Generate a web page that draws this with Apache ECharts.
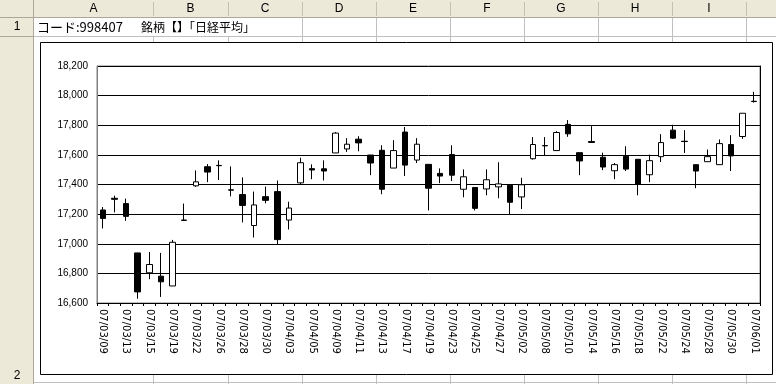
<!DOCTYPE html>
<html>
<head>
<meta charset="utf-8">
<script src="https://cdn.jsdelivr.net/npm/echarts@6/dist/echarts.min.js"></script>
<style>
html,body{margin:0;padding:0;background:#fff;}
#c{width:776px;height:384px;}
</style>
</head>
<body>
<div id="c"></div>
<script>
const categories = ['07/03/09','07/03/12','07/03/13','07/03/14','07/03/15','07/03/16','07/03/19','07/03/20','07/03/22','07/03/23',
'07/03/26','07/03/27','07/03/28','07/03/29','07/03/30','07/04/02','07/04/03','07/04/04','07/04/05','07/04/06',
'07/04/09','07/04/10','07/04/11','07/04/12','07/04/13','07/04/16','07/04/17','07/04/18','07/04/19','07/04/20',
'07/04/23','07/04/24','07/04/25','07/04/26','07/04/27','07/05/01','07/05/02','07/05/07','07/05/08','07/05/09',
'07/05/10','07/05/11','07/05/14','07/05/15','07/05/16','07/05/17','07/05/18','07/05/21','07/05/22','07/05/23',
'07/05/24','07/05/25','07/05/28','07/05/29','07/05/30','07/05/31','07/06/01'];
const openV = [17228,17307,17271,16938,16804,16781,16715,17160,17391,17520,
17529,17364,17332,17123,17318,17352,17160,17411,17507,17506,
17613,17640,17706,17599,17631,17511,17754,17565,17536,17475,
17602,17368,17380,17370,17384,17395,17316,17574,17663,17629,
17806,17615,17690,17584,17493,17590,17570,17466,17588,17767,
17692,17534,17554,17534,17670,17724,17962];
const closeV = [17171,17300,17185,16675,16860,16743,17010,17158,17418,17484,
17527,17362,17259,17262,17293,17028,17241,17547,17498,17491,
17747,17672,17681,17545,17368,17629,17531,17672,17375,17457,
17463,17452,17239,17432,17404,17280,17398,17670,17661,17751,
17742,17559,17684,17518,17534,17504,17400,17561,17683,17713,
17690,17491,17588,17676,17593,17881,17960];
const lowV = [17103,17212,17155,16629,16761,16641,16715,17153,17384,17416,
17430,17320,17144,17042,17273,16996,17096,17402,17436,17427,
17613,17620,17624,17463,17334,17511,17457,17545,17225,17409,
17423,17314,17225,17327,17307,17200,17234,17568,17593,17629,
17722,17463,17683,17497,17436,17491,17327,17416,17552,17708,
17613,17375,17554,17534,17491,17708,17953];
const highV = [17248,17325,17305,16938,16944,16938,17026,17271,17495,17538,
17563,17522,17448,17352,17386,17427,17284,17581,17536,17563,
17754,17713,17726,17599,17665,17699,17788,17713,17536,17509,
17665,17502,17380,17502,17550,17395,17445,17720,17720,17760,
17835,17615,17794,17615,17545,17658,17570,17602,17740,17803,
17767,17534,17636,17704,17733,17881,18026];
const yTicks = {min:16600, max:18200, step:200};
const colLetters = ['A','B','C','D','E','F','G','H','I','J'];
const colEdges = [34,153,228,302,376,450,524,598,672,746,820];
const titleCode = 'コード:998407';
const titleName = '銘柄【】「日経平均」';

const candleData = categories.map((c,i)=>[openV[i], closeV[i], lowV[i], highV[i]]);

// spreadsheet decoration
const g = [];
const W = 776, H = 384;
g.push({type:'rect', shape:{x:0,y:0,width:W,height:18}, style:{fill:'#ECE9D8'}, z:0, silent:true});
g.push({type:'rect', shape:{x:0,y:0,width:34,height:H}, style:{fill:'#ECE9D8'}, z:0, silent:true});
g.push({type:'line', shape:{x1:0,y1:17.5,x2:W,y2:17.5}, style:{stroke:'#ACA899',lineWidth:1}, z:0, silent:true});
g.push({type:'line', shape:{x1:33.5,y1:0,x2:33.5,y2:H}, style:{stroke:'#ACA899',lineWidth:1}, z:0, silent:true});
g.push({type:'line', shape:{x1:0,y1:36.5,x2:33,y2:36.5}, style:{stroke:'#ACA899',lineWidth:1}, z:0, silent:true});
g.push({type:'line', shape:{x1:34,y1:36.5,x2:W,y2:36.5}, style:{stroke:'#C0C0C0',lineWidth:1}, z:0, silent:true});
g.push({type:'line', shape:{x1:34,y1:382.5,x2:W,y2:382.5}, style:{stroke:'#C0C0C0',lineWidth:1}, z:0, silent:true});
for (let k=1;k<colEdges.length-1;k++){
  const x = colEdges[k]+0.5;
  g.push({type:'line', shape:{x1:x,y1:2,x2:x,y2:16}, style:{stroke:'#C5C2B2',lineWidth:1}, z:0, silent:true});
  const y1 = (k<=2) ? 37 : 18;
  g.push({type:'line', shape:{x1:x,y1:y1,x2:x,y2:H}, style:{stroke:'#C0C0C0',lineWidth:1}, z:0, silent:true});
}
for (let k=0;k<colLetters.length;k++){
  const cx = (colEdges[k]+colEdges[k+1])/2;
  g.push({type:'text', x:cx, y:9, style:{text:colLetters[k], fill:'#000', font:'12px "Liberation Sans", Arial, sans-serif', textAlign:'center', textVerticalAlign:'middle'}, z:1, silent:true});
}
g.push({type:'text', x:17, y:27, style:{text:'1', fill:'#000', font:'12px "Liberation Sans", Arial, sans-serif', textAlign:'center', textVerticalAlign:'middle'}, z:1, silent:true});
g.push({type:'text', x:17, y:376, style:{text:'2', fill:'#000', font:'12px "Liberation Sans", Arial, sans-serif', textAlign:'center', textVerticalAlign:'middle'}, z:1, silent:true});
g.push({type:'text', x:37, y:27, style:{text:titleCode, fill:'#000', font:'13px "Noto Sans CJK JP", sans-serif', textAlign:'left', textVerticalAlign:'middle'}, z:1, silent:true});
g.push({type:'text', x:141, y:27, style:{text:titleName, fill:'#000', font:'12px "Noto Sans CJK JP", sans-serif', textAlign:'left', textVerticalAlign:'middle'}, z:1, silent:true});
// chart object frame
g.push({type:'rect', shape:{x:40.5,y:42.5,width:732,height:332}, style:{fill:'#fff', stroke:'#000', lineWidth:1}, z:1, silent:true});

const chart = echarts.init(document.getElementById('c'), null, {renderer:'canvas'});
chart.setOption({
  animation:false,
  backgroundColor:'#fff',
  graphic:{elements:g},
  grid:{left:97, right:16, top:66, bottom:81, show:true, borderColor:'#808080', borderWidth:1, backgroundColor:'transparent', z:2},
  xAxis:{
    type:'category', data:categories, boundaryGap:true, z:3,
    axisLine:{show:true, lineStyle:{color:'#000', width:1}},
    axisTick:{show:true, interval:0, length:3, lineStyle:{color:'#000'}},
    axisLabel:{interval:1, rotate:-90, margin:6, color:'#000', fontSize:10, fontFamily:'"DejaVu Sans", sans-serif'},
    splitLine:{show:false}
  },
  yAxis:[{
    type:'value', min:yTicks.min, max:yTicks.max, interval:yTicks.step, z:3,
    axisLine:{show:true, lineStyle:{color:'#808080'}},
    axisTick:{show:false},
    axisLabel:{margin:9, color:'#000', fontSize:10, fontFamily:'"Liberation Sans", Arial, sans-serif',
      formatter:v=>v.toLocaleString('en-US')},
    splitLine:{show:true, lineStyle:{color:'#000', width:1}}
  },{
    type:'value', min:yTicks.min, max:yTicks.max, interval:yTicks.step, position:'right', z:3,
    axisLine:{show:true, lineStyle:{color:'#000'}},
    axisTick:{show:false}, axisLabel:{show:false}, splitLine:{show:false}
  }],
  series:[{
    type:'candlestick', data:candleData, yAxisIndex:0, barWidth:6, z:4,
    itemStyle:{color:'#fff', color0:'#000', borderColor:'#000', borderColor0:'#000', borderColorDoji:'#000', borderWidth:1}
  }]
});
</script>
</body>
</html>
